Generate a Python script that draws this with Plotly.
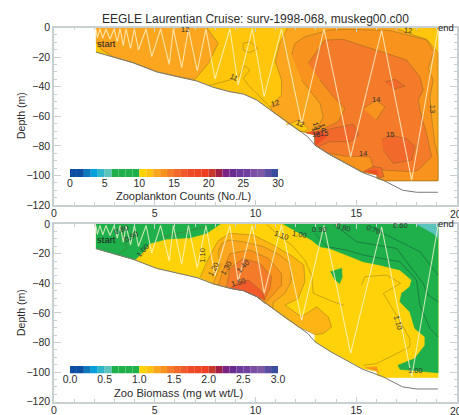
import plotly.graph_objects as go

TITLE = "EEGLE Laurentian Cruise: surv-1998-068, muskeg00.c00"
FONT = "Liberation Sans, Arial, sans-serif"

# scale colours: one per unit step of the colour bar
BAR_COLORS = ["#0B4EA2", "#0B4EA2", "#0D79BC", "#00A0DC", "#2FB5C8", "#5CC4BD", "#1FB04B", "#1FB04B", "#1FB04B", "#1FB04B",
              "#FFD400", "#FFC20E", "#FBA61E", "#F8931D", "#F47B2A", "#F16A2C", "#EF5B2B", "#EE4C27", "#ED4624", "#EF4023",
              "#C8392B", "#A01F45", "#7B2382", "#6B2C91", "#6C3A9A", "#7040A0", "#7B4FA3", "#7E57A5", "#5B4EA2", "#3A4EA0"]
COUNT_TICKS = [0, 5, 10, 15, 20, 25, 30]
BIOMASS_TICKS = ["0.0", "0.5", "1.0", "1.5", "2.0", "2.5", "3.0"]

# bathymetry (distance km, depth m)
BATHY_X = [2.08, 2.96, 3.92, 5.1, 6.25, 7.1, 7.9, 8.73, 9.4, 10.06, 10.86, 11.55, 12.2, 12.6, 12.95, 13.7, 14.5, 15.3, 16.3, 17.3, 18, 19.05]
BATHY_D = [-16.6, -20, -23.8, -30, -33.6, -36.2, -40.4, -43.4, -45, -49, -57, -64, -70, -74, -79.5, -86, -92, -98, -103, -110, -111.4, -111.4]

# lower edge of the sampled section
FLOOR = [(2.08, -16.6), (2.96, -20), (3.92, -23.8), (5.1, -30), (6.25, -33.6), (7.1, -36.2), (7.9, -40.4), (8.73, -43.4),
         (9.4, -45), (10.06, -49), (10.86, -57), (11.55, -64), (12.2, -70), (12.95, -72.5), (12.95, -79.5), (13.7, -86),
         (14.5, -92), (15.33, -97.8), (16.03, -99.5), (16.03, -102), (16.4, -103.6), (19.06, -103.6)]

# tow track
TRACK_X = [2.08, 2.15, 2.28, 2.42, 2.58, 2.78, 2.98, 3.14, 3.28, 3.44, 3.57, 3.8, 3.99, 4.19, 4.57, 4.85, 5.29, 5.72, 5.92, 6.34, 6.67, 7.11, 7.54, 7.99, 8.73, 9.14, 9.84, 10.43, 11.29, 12.29, 13.4, 14.72, 16.26, 17.75, 19.05]
TRACK_D = [-1, -7, -1, -7.3, -1, -7.8, -1, -9.6, -1, -12.3, -1, -14.1, -1, -15.2, -1, -19.7, -1, -25, -1, -27.2, -1, -29.4, -1, -34.8, -1, -38.9, -1, -46.8, -1, -65, -1, -87.4, -2, -103.2, -1.7]


def floor(a, b):
    """Section edge between distances a and b, right to left."""
    return [p for p in FLOOR if a <= p[0] <= b][::-1]


# ---- zooplankton counts: filled bands, painted in order
C_BASE = [(2.08, 0), (19.06, 0)] + floor(2.08, 19.06)
C_LEFT = [(2.08, 0), (7.58, 0), (8.15, -10.7), (7.66, -24.2), (7.0, -35.1), (6.25, -33.6), (5.1, -30), (3.92, -23.8), (2.96, -20), (2.37, -15.2), (2.08, -9.6)]
C_B12 = [(11.6, 0), (11.2, -10.7), (10.98, -23), (11.29, -35.5), (11.29, -45.7), (10.72, -53.6)] + floor(10.8, 19.06)[::-1] + [(19.06, -17), (18.5, -8), (17.6, -4), (16.9, 0)]
C_B13 = [(11.79, -18.6), (11.96, -10.7), (12.45, -6.2), (13.69, -1.7), (14.5, -1.2), (16.67, -2), (18.49, -8.5), (18.85, -16.4), (18.57, -27.6), (18.82, -35.5), (18.66, -46.8), (18.74, -60.3), (18.9, -78.4), (19.06, -87.4), (19.06, -103.6), (16.4, -103.6), (16.03, -102), (16.03, -99.5), (15.33, -97.8), (14.5, -92), (13.7, -86), (12.95, -79.5), (12.95, -72.5), (12.7, -71.2), (13.2, -64.8), (13.36, -60.3), (13.2, -51.3), (12.29, -35.5)]
C_B14 = [(12.62, -24.2), (13.11, -15.2), (13.44, -8.5), (14.35, -8), (16, -15.2), (17.5, -22), (18.16, -33.3), (18.32, -42.3), (18.08, -49), (18.16, -55.8), (18.49, -71.6), (18.74, -87.4), (18.08, -96.4), (17.75, -97.5), (16.34, -96.4), (15.84, -94), (15.68, -87.4), (14.44, -87), (13.53, -84.7), (12.95, -79.5), (12.95, -72.5), (12.7, -71.6), (13.2, -69.4), (14.1, -63.7), (14.44, -54.7), (13.86, -46.8), (13.2, -35.5)]
C_ISLE_13 = [(15.35, -54.7), (16, -49), (16.42, -53.6), (16, -62.6)]
C_ISLE_15A = [(16.42, -36.7), (16.92, -35), (17.42, -39.6), (16.84, -41.8)]
C_ISLE_15B = [(16.26, -76), (16.67, -72.7), (17.5, -75), (17.91, -80.6), (17.75, -89.6), (16.84, -91.9), (16.34, -82.9)]
C_ISLE_15C = [(12.53, -71.6), (13.03, -70.5), (14.85, -65.3), (15.15, -72.7), (14.69, -77.2), (13.69, -77.2), (13.11, -80.6), (12.95, -79.5), (12.95, -72.7)]
C_ISLE_17A = [(12.5, -71.2), (13.2, -70), (13.56, -73.4), (13, -79.5), (12.95, -72.7)]
C_ISLE_15D = [(15.35, -97.5), (15.84, -94), (16.26, -94.8), (16.37, -101), (16.09, -101.4), (16.03, -99.5)]
C_ISLE_17B = [(15.4, -97), (16.01, -96.4), (16.09, -99.8), (16.03, -99.5)]
C_ISLE_11 = [(11.54, -66), (12.12, -62.6), (12.62, -68.2), (12.45, -70.5), (12.2, -70), (11.55, -64)]
C_LINE_11 = [(7.74, -39), (8.73, -35.5), (9.14, -33.3), (9.47, -25.8), (9.72, -28.8), (9.39, -34.4), (9.64, -38.9), (10.3, -47.9), (10.72, -53.6)]
C_LOOP_11 = [(9.39, -10.7), (9.72, -9.6), (10.13, -14.1), (9.72, -17), (9.39, -15.2), (9.39, -10.7)]

# ---- zooplankton biomass: filled bands
B_BASE = C_BASE
B_GREEN_L = [(2.08, 0), (8.24, 0), (7.58, -6.3), (6.75, -9.25), (5.59, -10.15), (4.76, -13.1), (4.43, -18.7), (4.07, -23.7), (3.92, -23.8), (2.96, -20), (2.08, -16.6)]
B_GREEN_R = [(11.38, 0), (12.04, -5.2), (12.78, -10.8), (13.2, -15.3), (13.69, -16.5), (14.52, -21), (15.35, -25.5), (16.17, -27.7), (17.17, -31.1), (17.75, -37.9), (17.66, -42.4), (17.25, -46.9), (17.17, -52.5), (17.66, -59.3), (17.91, -70.6), (18.41, -76.2), (18.41, -81.9), (17.91, -90.9), (17.08, -95.4), (17.17, -98.1), (19.06, -100.5), (19.06, 0)]
B_TEAL = [(17.99, 0), (18.82, -6.3), (19.06, -9.25), (19.06, 0)]
B_ISLE_G = [(13.72, -32.2), (14.27, -30), (14.3, -35.6), (14.17, -40.1), (13.89, -36.8)]
B_A = [(7.25, -35.9), (7.66, -23.5), (8.15, -11.1), (8.73, -6.3), (9.89, -7.4), (10.88, -14.2), (11.87, -22.1), (12.4, -27.7), (12.45, -39), (12.12, -50.3), (11.46, -54.8), (12.29, -62.7), (13.03, -55.9), (13.61, -62.7), (13.78, -69.5), (13.36, -74), (12.95, -74.7)] + floor(7.2, 12.9)
B_B = [(7.91, -40.1), (8.24, -28.9), (8.15, -18.7), (8.32, -13.1), (8.73, -10.8), (9.39, -12), (10.38, -15.3), (11.21, -21), (11.71, -26.6), (11.79, -37.9), (11.46, -46.9), (10.88, -53)] + floor(7.95, 10.87)
B_C = [(8.15, -41.3), (8.4, -31.1), (8.73, -20), (9.72, -17.6), (10.63, -23.2), (11.29, -33.4), (11.29, -41.3), (10.47, -53.7)] + floor(8.2, 10.4)
B_D = [(8.55, -42.9), (8.73, -30), (9.39, -23.2), (10.22, -26.6), (10.8, -35.6), (10.72, -43.5), (10.47, -50.3)] + floor(8.6, 10.4)
B_E = [(8.73, -43.5), (9.23, -39), (9.64, -37.9), (10.14, -43.5), (10.38, -46.9), (10.47, -51.4)] + floor(8.8, 10.4)
B_PATCH = [(15.43, -97), (16.01, -96.5), (16.09, -100.6), (16.03, -99.5)]
B_LINE_110A = [(10.55, 0), (11.21, -8.6), (11.79, -14.2), (12.45, -24.4), (12.78, -34.5), (12.87, -46.9), (13.86, -52.5), (14.4, -55)]
B_LINE_110B = [(15.26, -41.3), (15.43, -35.6), (16.5, -34.5), (17.2, -40.1), (16.34, -46.9), (17, -61.6), (17.66, -77.4), (17.66, -83), (16.67, -89.8), (16, -94.3), (15.35, -95.4)]
B_LINE_09 = [(12.95, -6.3), (13.53, -15.3), (14.52, -17.6), (15.35, -21), (17.17, -25.5), (17.99, -37.9), (18.16, -54.8), (18.66, -70.6), (19.06, -76.2)]
B_LINE_08 = [(13.86, 0), (15.02, -12), (17, -16.5), (18.32, -40.1), (18.57, -48), (19.06, -52.5)]
B_LINE_07 = [(15.68, -1.8), (17, -10.8), (18.16, -18.7), (19.06, -34.5)]
B_LINE_L1 = [(5.43, -8.6), (7.58, -1.8)]
B_LINE_L2 = [(3.27, 0), (3.61, -16.5), (3.11, -21)]

# contour labels: text, distance, depth, rotation
C_LABELS = [("12", 6.5, -1.2, 0), ("11", 8.93, -33.7, 25), ("12", 10.96, -51.3, -15), ("12", 12.2, -64.9, 20),
            ("13", 13.0, -66.5, 70), ("14", 13.35, -67.5, 70), ("13", 13.0, -70, 70), ("15", 13.38, -71.5, 0), ("18", 13.0, -72.5, 0),
            ("14", 16, -48.4, 0), ("15", 16.67, -72.3, 0), ("14", 15.35, -85.1, 0), ("12", 17.58, -1.7, 5), ("13", 18.79, -54.7, 90)]
B_LABELS = [("0.80", 3.36, -3.4, -20), ("0.90", 3.85, -8.6, -30), ("1.00", 4.4, -17.6, -50), ("1.10", 7.33, -21, -90),
            ("1.20", 7.91, -30.5, -60), ("1.30", 8.54, -30, -60), ("1.40", 9.39, -28.9, -45), ("1.50", 9.14, -39.5, -15),
            ("1.10", 11.29, -7.9, 20), ("1.00", 12.17, -7.4, 10), ("0.90", 13.16, -4, 0), ("0.80", 14.35, -2.5, 15),
            ("0.70", 15.84, -4, 20), ("0.60", 17.2, -1.1, 0), ("1.10", 17.08, -66.5, 75), ("1.00", 17.96, -99.2, 0)]

EDGE = "rgba(105,85,35,0.5)"
Y10, Y11, O12, O13, O14, O15, R17 = "#FFD20A", "#FFC60B", "#FBA61E", "#F8931D", "#F47B2A", "#F16A2C", "#EE4F27"
GREEN, TEAL = "#1FB04B", "#5CC4BD"

fig = go.Figure()


def band(points, color, xa, ya, edge=True):
    fig.add_trace(go.Scatter(x=[p[0] for p in points], y=[p[1] for p in points], mode="lines", fill="toself",
                             fillcolor=color, line=dict(color=EDGE if edge else color, width=0.7), xaxis=xa, yaxis=ya,
                             hoverinfo="skip", showlegend=False))


def contour(points, xa, ya, color=EDGE):
    fig.add_trace(go.Scatter(x=[p[0] for p in points], y=[p[1] for p in points], mode="lines",
                             line=dict(color=color, width=0.7), xaxis=xa, yaxis=ya, hoverinfo="skip", showlegend=False))


for pts, col, e in [(C_BASE, Y11, False), (C_LEFT, O12, True), (C_B12, O12, True), (C_B13, O13, True), (C_B14, O14, True),
                    (C_ISLE_13, O13, True), (C_ISLE_15A, O15, True), (C_ISLE_15B, O15, True), (C_ISLE_15C, O15, True),
                    (C_ISLE_17A, R17, False), (C_ISLE_15D, O15, True), (C_ISLE_17B, R17, False), (C_ISLE_11, Y11, True)]:
    band(pts, col, "x", "y", e)
for pts in [C_LINE_11, C_LOOP_11]:
    contour(pts, "x", "y")

for pts, col, e in [(B_BASE, Y10, False), (B_GREEN_L, GREEN, False), (B_GREEN_R, GREEN, False), (B_TEAL, TEAL, False), (B_ISLE_G, GREEN, False),
                    (B_A, "#FDB515", True), (B_B, O12, True), (B_C, O13, True), (B_D, O14, True), (B_E, "#F15A29", True),
                    (B_PATCH, O13, False)]:
    band(pts, col, "x2", "y2", e)
for pts in [B_LINE_110A, B_LINE_110B, B_LINE_L1, B_LINE_L2]:
    contour(pts, "x2", "y2")
for pts in [B_LINE_09, B_LINE_08, B_LINE_07]:
    contour(pts, "x2", "y2", "rgba(20,70,50,0.65)")

for xa, ya in [("x", "y"), ("x2", "y2")]:
    fig.add_trace(go.Scatter(x=TRACK_X, y=TRACK_D, mode="lines", line=dict(color="rgba(255,248,215,0.75)", width=1.1),
                             xaxis=xa, yaxis=ya, hoverinfo="skip", showlegend=False))
    fig.add_trace(go.Scatter(x=BATHY_X, y=BATHY_D, mode="lines", line=dict(color="#77797c", width=1.0),
                             xaxis=xa, yaxis=ya, hoverinfo="skip", showlegend=False))

# colour bars
for xa, ya, span in [("x3", "y3", 30.0), ("x4", "y4", 3.0)]:
    step = span / 30
    fig.add_trace(go.Bar(y=[0] * 30, x=[step] * 30, base=[i * step for i in range(30)], width=1, orientation="h",
                         marker=dict(color=BAR_COLORS, line=dict(width=0)), xaxis=xa, yaxis=ya,
                         hoverinfo="skip", showlegend=False))

FIGW, FIGH = 459, 415
TXT = "#2b2b2b"
GRID = "#c9d0d2"
TICKSIZE = 10.5


def xstyle(y_anchor):
    return dict(domain=[54 / FIGW, 457 / FIGW], range=[0, 20], anchor=y_anchor, tickvals=[0, 5, 10, 15, 20], ticks="inside",
                ticklen=5, tickcolor=GRID, tickwidth=1, showline=True, linecolor=GRID, linewidth=1.5, mirror="ticks",
                showgrid=False, zeroline=False, automargin=False, ticklabelstandoff=-2, tickfont=dict(family=FONT, size=TICKSIZE, color=TXT),
                minor=dict(dtick=1, ticks="inside", ticklen=3, tickcolor=GRID, tickwidth=1, showgrid=False))


def ystyle(x_anchor, top, bottom):
    return dict(domain=[1 - bottom / FIGH, 1 - top / FIGH], range=[-120, 0], anchor=x_anchor, tickvals=[-120, -100, -80, -60, -40, -20, 0],
                ticks="inside", ticklen=7, tickcolor=GRID, tickwidth=1, showline=True, linecolor=GRID, linewidth=1.5, mirror="ticks",
                showgrid=False, zeroline=False, automargin=False, tickfont=dict(family=FONT, size=TICKSIZE, color=TXT),
                minor=dict(dtick=5, ticks="inside", ticklen=3, tickcolor=GRID, tickwidth=1, showgrid=False))


def barx(y_anchor, rng, vals, texts):
    return dict(domain=[70 / FIGW, 278 / FIGW], range=rng, anchor=y_anchor, tickvals=vals, ticktext=texts, ticks="", showline=False,
                showgrid=False, zeroline=False, automargin=False, ticklabelstandoff=-2, tickfont=dict(family=FONT, size=TICKSIZE, color=TXT))


def bary(x_anchor, top, bottom):
    return dict(domain=[1 - bottom / FIGH, 1 - top / FIGH], range=[-0.5, 0.5], anchor=x_anchor, visible=False)


def paper_text(text, px, py, size=11, angle=0, color=TXT):
    return dict(text=text, xref="paper", yref="paper", x=px / FIGW, y=1 - py / FIGH, showarrow=False, textangle=angle,
                xanchor="center", yanchor="middle", font=dict(family=FONT, size=size, color=color))


annotations = [paper_text(TITLE, 255, 19, 12), paper_text("Zooplankton Counts (No./L)", 183, 196), paper_text("Zoo Biomass (mg wt wt/L)", 179, 393, 11.2),
               paper_text("Depth (m)", 21, 116, 10.5, -90), paper_text("Depth (m)", 21, 313, 10.5, -90),
               paper_text("end", 446, 27, 9.5, 0, "#222"), paper_text("end", 446, 223, 9.5, 0, "#222"),
               paper_text("20", 456, 214, TICKSIZE), paper_text("20", 456, 410.5, TICKSIZE)]
for xr, yr, d in [("x", "y", -10.7), ("x2", "y2", -10.8)]:
    annotations.append(dict(text="start", xref=xr, yref=yr, x=2.62, y=d, showarrow=False, font=dict(family=FONT, size=9.5, color="#222")))
for labels, xr, yr in [(C_LABELS, "x", "y"), (B_LABELS, "x2", "y2")]:
    for t, x, d, rot in labels:
        annotations.append(dict(text=t, xref=xr, yref=yr, x=x, y=d, textangle=rot, showarrow=False,
                                font=dict(family=FONT, size=7.5, color="#333")))

fig.update_layout(
    width=FIGW, height=FIGH, autosize=False, margin=dict(l=0, r=0, t=0, b=0, autoexpand=False), paper_bgcolor="white", plot_bgcolor="white",
    showlegend=False, barmode="overlay", annotations=annotations,
    xaxis=xstyle("y"), yaxis=ystyle("x", 27.5, 205),
    xaxis2=xstyle("y2"), yaxis2=ystyle("x2", 224, 401.7),
    xaxis3=barx("y3", [0, 30], COUNT_TICKS, [str(v) for v in COUNT_TICKS]), yaxis3=bary("x3", 169, 177),
    xaxis4=barx("y4", [0, 3], [0, 0.5, 1, 1.5, 2, 2.5, 3], BIOMASS_TICKS), yaxis4=bary("x4", 366, 373.5),
)

fig.write_html("out.html", config={"displayModeBar": False},
               post_script="document.body.style.margin='0';document.documentElement.style.overflow='hidden';")
